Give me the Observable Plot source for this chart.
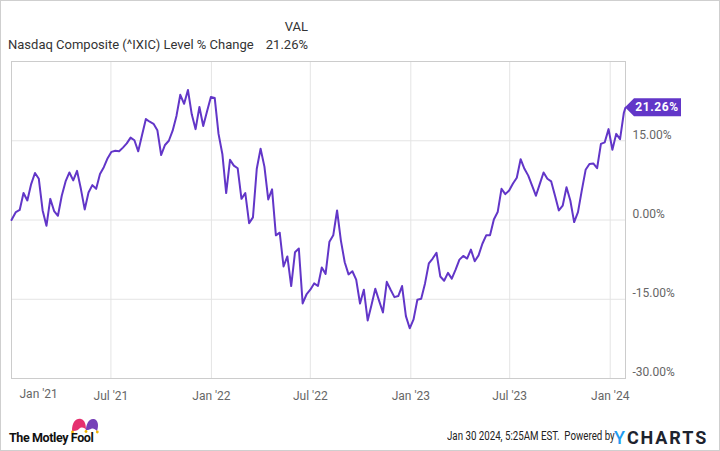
<!DOCTYPE html>
<html><head><meta charset="utf-8">
<script src="https://cdn.jsdelivr.net/npm/d3@7"></script>
<script src="https://cdn.jsdelivr.net/npm/@observablehq/plot@0.6"></script>
<style>
html,body{margin:0;padding:0;background:#fff;}
#wrap{position:relative;width:720px;height:451px;box-sizing:border-box;border:1px solid #cfcfcf;font-family:Roboto,"Liberation Sans",sans-serif;overflow:hidden;background:#fff;}
.abs{position:absolute;white-space:nowrap;}
#chart{position:absolute;left:0;top:54px;}
</style>
</head><body>
<div id="wrap">
  <div class="abs" id="hVal" style="left:0;width:307px;top:18px;text-align:right;font-size:13px;color:#333;">VAL</div>
  <div class="abs" id="hName" style="left:7px;top:36px;font-size:13px;color:#333;"></div>
  <div class="abs" id="hLast" style="left:0;width:307px;top:36px;text-align:right;font-size:13px;color:#333;"></div>
  <div id="chart"></div>
  <div class="abs" style="left:7px;top:416px;">
    <svg width="95" height="30" viewBox="0 0 95 30" style="display:block">
      <path d="M64,14 C64,5 68,1 73,2 C77,3 78,8 78,13 C76,10 73,10 71,12 C69,14 66,14 64,14 Z" fill="#e5306f"/>
      <path d="M78,13 C78,7 81,1 86,2 C90,3 91,8 89,14 C87,12 85,11 83,12 C81,13 79,13 78,13 Z" fill="#7640b8"/>
      <circle cx="64.5" cy="15" r="1.4" fill="#f2b600"/>
      <circle cx="78" cy="14.5" r="1.4" fill="#f2b600"/>
      <circle cx="89.3" cy="15" r="1.4" fill="#f2b600"/>
      <text x="1" y="25" font-family="Roboto, sans-serif" font-weight="700" font-size="12.5" letter-spacing="-0.4" fill="#111">The Motley Fool</text>
    </svg>
  </div>
  <div class="abs" id="stamp" style="left:446px;top:428px;font-size:12px;color:#222;transform:scaleX(0.81);transform-origin:0 0;"></div>
  <div class="abs" style="left:613px;top:426px;font-size:18px;font-weight:700;letter-spacing:1.9px;color:#1d232e;"><span style="color:#1f9cf0;font-weight:500;">Y</span>CHARTS</div>
</div>
<script>
// ---- data ----
const seriesName = "Nasdaq Composite (^IXIC) Level % Change";
const lastLabel = "21.26%";
const stampText = "Jan 30 2024, 5:25AM EST.\u00a0\u00a0Powered by";
const dates = [
"2020-12-31",
"2021-01-08","2021-01-15","2021-01-22","2021-01-29","2021-02-05","2021-02-12","2021-02-19","2021-02-26",
"2021-03-05","2021-03-12","2021-03-19","2021-03-26","2021-04-02","2021-04-09","2021-04-16","2021-04-23","2021-04-30",
"2021-05-07","2021-05-14","2021-05-21","2021-05-28","2021-06-04","2021-06-11","2021-06-18","2021-06-25",
"2021-07-02","2021-07-09","2021-07-16","2021-07-23","2021-07-30","2021-08-06","2021-08-13","2021-08-20","2021-08-27",
"2021-09-03","2021-09-10","2021-09-17","2021-09-24","2021-10-01","2021-10-08","2021-10-15","2021-10-22","2021-10-29",
"2021-11-05","2021-11-12","2021-11-19","2021-11-26","2021-12-03","2021-12-10","2021-12-17","2021-12-24","2021-12-31",
"2022-01-07","2022-01-14","2022-01-21","2022-01-28","2022-02-04","2022-02-11","2022-02-18","2022-02-25",
"2022-03-04","2022-03-11","2022-03-18","2022-03-25","2022-04-01","2022-04-08","2022-04-15","2022-04-22","2022-04-29",
"2022-05-06","2022-05-13","2022-05-20","2022-05-27","2022-06-03","2022-06-10","2022-06-17","2022-06-24",
"2022-07-01","2022-07-08","2022-07-15","2022-07-22","2022-07-29","2022-08-05","2022-08-12","2022-08-19","2022-08-26",
"2022-09-02","2022-09-09","2022-09-16","2022-09-23","2022-09-30","2022-10-07","2022-10-14","2022-10-21","2022-10-28",
"2022-11-04","2022-11-11","2022-11-18","2022-11-25","2022-12-02","2022-12-09","2022-12-16","2022-12-23","2022-12-30",
"2023-01-06","2023-01-13","2023-01-20","2023-01-27","2023-02-03","2023-02-10","2023-02-17","2023-02-24",
"2023-03-03","2023-03-10","2023-03-17","2023-03-24","2023-03-31","2023-04-07","2023-04-14","2023-04-21","2023-04-28",
"2023-05-05","2023-05-12","2023-05-19","2023-05-26","2023-06-02","2023-06-09","2023-06-16","2023-06-23","2023-06-30",
"2023-07-07","2023-07-14","2023-07-21","2023-07-28","2023-08-04","2023-08-11","2023-08-18","2023-08-25",
"2023-09-01","2023-09-08","2023-09-15","2023-09-22","2023-09-29","2023-10-06","2023-10-13","2023-10-20","2023-10-27",
"2023-11-03","2023-11-10","2023-11-17","2023-11-24","2023-12-01","2023-12-08","2023-12-15","2023-12-22","2023-12-29",
"2024-01-05","2024-01-12","2024-01-19","2024-01-26","2024-01-29"
];
const values = [
0, 1.5, 1.9, 5.1, 3.7, 6.8, 8.9, 7.8, 1.8, -1.1,
4.0, 1.7, 0.8, 4.6, 7.3, 9.0, 7.5, 9.3, 5.9, 2.0,
5.2, 6.6, 5.9, 8.7, 10.0, 11.7, 12.9, 13.1, 13.0, 13.7,
14.5, 15.6, 15.1, 13.0, 16.1, 19.1, 18.6, 18.2, 17.0, 12.3,
14.2, 15.0, 16.9, 19.7, 23.7, 22.0, 24.6, 20.0, 17.2, 21.4,
17.8, 20.6,
23.3, 23.1, 16.3, 12.5, 5.1, 11.4, 10.3, 9.8, 4.0, 5.1,
-0.6, 0.5, 9.7, 13.5, 10.1, 3.9, 5.8, -2.9, -2.4, -8.8,
-6.9, -12.5, -6.1, -5.4, -15.8, -14.1, -13.2, -12.0, -12.5, -9.0,
-10.2, -4.1, -2.9, 1.8, -3.9, -8.0, -10.3, -9.7, -11.3, -15.8,
-13.2, -19.0, -16.1, -13.0, -15.3, -17.5, -11.7, -13.2, -14.6, -14.4,
-12.5, -18.2, -20.5, -18.8, -15.1, -14.9, -12.0, -8.2, -7.3, -6.2,
-10.7, -11.5, -10.0, -11.1, -9.4, -7.5, -6.8, -7.3, -5.6, -7.8,
-6.7, -4.5, -2.9, -2.9, 0.1, 1.5, 5.9, 4.9, 5.6, 6.9,
8.0, 11.5, 9.7, 8.4, 6.5, 4.6, 6.8, 9.0, 7.8, 7.3,
4.6, 1.8, 2.7, 6.2, 3.7, -0.4, 1.5, 5.6, 9.5, 10.6,
10.7, 9.8, 14.4, 14.7, 17.2, 13.3, 16.3, 15.3, 20.3, 21.26
];
const xTickDates = ["2021-07-01","2022-01-01","2022-07-01","2023-01-01","2023-07-01","2024-01-01"];
const xTickLabels = ["Jul '21","Jan '22","Jul '22","Jan '23","Jul '23","Jan '24"];
const firstTickLabel = "Jan '21";
const yTicks = [-30, -15, 0, 15];
const yGrid = [-15, 0, 15];
const yDomain = [-30, 30];

// ---- build ----
const purple = "#6236c8";
const data = dates.map((d, i) => ({date: new Date(d + "T00:00:00Z"), value: values[i]}));
const tickDates = xTickDates.map(d => new Date(d + "T00:00:00Z"));
const labelByTime = new Map(tickDates.map((d, i) => [+d, xTickLabels[i]]));
const last = data[data.length - 1];

document.getElementById("hName").textContent = seriesName;
document.getElementById("hLast").textContent = lastLabel;
document.getElementById("stamp").textContent = stampText;

const lastMark = (index, scales) => {
  const px = scales.x(last.date), py = scales.y(last.value);
  const g = d3.create("svg:g");
  g.append("path")
    .attr("d", `M${px},${py} L${px + 9},${py - 9} L${px + 56},${py - 9} L${px + 56},${py + 9} L${px + 9},${py + 9} Z`)
    .attr("fill", purple);
  g.append("text")
    .attr("x", px + 32).attr("y", py).attr("dy", "0.36em")
    .attr("text-anchor", "middle").attr("fill", "#fff")
    .attr("font-size", 12).attr("font-weight", 700).attr("letter-spacing", "0.6")
    .text(lastLabel);
  return g.node();
};

const chart = Plot.plot({
  width: 718, height: 355,
  marginTop: 6, marginBottom: 32, marginLeft: 10, marginRight: 94,
  x: {type: "utc", domain: [data[0].date, last.date]},
  y: {domain: yDomain},
  style: {fontFamily: "Roboto, sans-serif", fontSize: "12px", background: "transparent", overflow: "visible"},
  marks: [
    Plot.ruleY(yGrid, {stroke: "#e4e4e4", strokeWidth: 1}),
    Plot.ruleX(tickDates, {stroke: "#e4e4e4", strokeWidth: 1}),
    Plot.frame({stroke: "#cccccc"}),
    Plot.axisY({anchor: "right", ticks: yTicks, tickFormat: d => d.toFixed(2) + "%", tickSize: 0, tickPadding: 7, dy: -6, fill: "#666", fontSize: 12, label: null}),
    Plot.axisX({ticks: tickDates, tickFormat: d => labelByTime.get(+d), tickSize: 0, tickPadding: 13, fill: "#666", fontSize: 12, label: null}),
    Plot.text([firstTickLabel], {x: [data[0].date], text: d => d, frameAnchor: "bottom", dy: 19, dx: 8, textAnchor: "start", fill: "#666", fontSize: 12}),
    Plot.line(data, {x: "date", y: "value", stroke: purple, strokeWidth: 2, strokeLinejoin: "round"}),
    lastMark
  ]
});
document.getElementById("chart").appendChild(chart);
</script>
</body></html>
